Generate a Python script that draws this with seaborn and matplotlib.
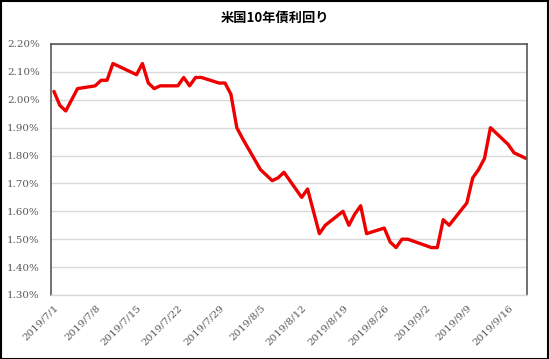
import matplotlib
matplotlib.use("Agg")
import matplotlib.pyplot as plt
import matplotlib.dates as mdates
import seaborn as sns
import pandas as pd

dates = ["2019-07-01", "2019-07-02", "2019-07-03", "2019-07-05",
         "2019-07-08", "2019-07-09", "2019-07-10", "2019-07-11", "2019-07-12",
         "2019-07-15", "2019-07-16", "2019-07-17", "2019-07-18", "2019-07-19",
         "2019-07-22", "2019-07-23", "2019-07-24", "2019-07-25", "2019-07-26",
         "2019-07-29", "2019-07-30", "2019-07-31", "2019-08-01", "2019-08-02",
         "2019-08-05", "2019-08-06", "2019-08-07", "2019-08-08", "2019-08-09",
         "2019-08-12", "2019-08-13", "2019-08-14", "2019-08-15", "2019-08-16",
         "2019-08-19", "2019-08-20", "2019-08-21", "2019-08-22", "2019-08-23",
         "2019-08-26", "2019-08-27", "2019-08-28", "2019-08-29", "2019-08-30",
         "2019-09-03", "2019-09-04", "2019-09-05", "2019-09-06",
         "2019-09-09", "2019-09-10", "2019-09-11", "2019-09-12", "2019-09-13",
         "2019-09-16", "2019-09-17", "2019-09-18", "2019-09-19"]
yields = [2.03, 1.98, 1.96, 2.04,
          2.05, 2.07, 2.07, 2.13, 2.12,
          2.09, 2.13, 2.06, 2.04, 2.05,
          2.05, 2.08, 2.05, 2.08, 2.08,
          2.06, 2.06, 2.02, 1.90, 1.86,
          1.75, 1.73, 1.71, 1.72, 1.74,
          1.65, 1.68, 1.60, 1.52, 1.55,
          1.60, 1.55, 1.59, 1.62, 1.52,
          1.54, 1.49, 1.47, 1.50, 1.50,
          1.47, 1.47, 1.57, 1.55,
          1.63, 1.72, 1.75, 1.79, 1.90,
          1.84, 1.81, 1.80, 1.79]

tick_dates = ["2019-07-01", "2019-07-08", "2019-07-15", "2019-07-22", "2019-07-29",
              "2019-08-05", "2019-08-12", "2019-08-19", "2019-08-26", "2019-09-02",
              "2019-09-09", "2019-09-16"]
tick_labels = ["2019/7/1", "2019/7/8", "2019/7/15", "2019/7/22", "2019/7/29",
               "2019/8/5", "2019/8/12", "2019/8/19", "2019/8/26", "2019/9/2",
               "2019/9/9", "2019/9/16"]
y_ticks = [1.30, 1.40, 1.50, 1.60, 1.70, 1.80, 1.90, 2.00, 2.10, 2.20]
title = "米国10年債利回り"

df = pd.DataFrame({"date": pd.to_datetime(dates), "yield": yields})

sns.set_theme(style="white")
plt.rcParams['font.family'] = ['DejaVu Serif', 'Noto Sans CJK JP']

fig = plt.figure(figsize=(5.49, 3.59), dpi=100)
ax = fig.add_axes([51/549, 1-295/359, (527-51)/549, (295-44)/359])

ax.set_axisbelow(True)
ax.yaxis.grid(True, color="#d9d9d9", linewidth=1.0)
ax.xaxis.grid(False)

sns.lineplot(data=df, x="date", y="yield", ax=ax, color="#ee0000",
             linewidth=2.4, legend=False)

t0 = mdates.date2num(pd.Timestamp("2019-07-01"))
t1 = mdates.date2num(pd.Timestamp("2019-09-19"))
ax.set_xlim(t0 - 0.5, t1 + 0.2)
ax.set_ylim(1.30, 2.20)

ax.set_yticks(y_ticks)
ax.set_yticklabels([f"{v:.2f}%" for v in y_ticks])
ax.set_xticks([mdates.date2num(pd.Timestamp(d)) for d in tick_dates])
ax.set_xticklabels(tick_labels, rotation=45, ha="right", rotation_mode="anchor")

ax.tick_params(axis="both", length=0, labelsize=7.4, labelcolor="#595959")
ax.tick_params(axis="y", pad=8)
ax.tick_params(axis="x", pad=6)

ax.set_xlabel("")
ax.set_ylabel("")

for s in ["left", "top", "right"]:
    ax.spines[s].set_color("#595959")
    ax.spines[s].set_linewidth(1.2)
    ax.spines[s].set_visible(True)
ax.spines["bottom"].set_color("#d9d9d9")
ax.spines["bottom"].set_linewidth(1.0)

fig.text(0.5, 1 - 18/359, title, ha="center", va="center", fontsize=9.5,
         fontweight="bold", family=['Noto Sans CJK JP', 'DejaVu Sans'], color="black")

border = plt.Rectangle((0.5/549, 0.5/359), 1 - 1.5/549, 1 - 1.5/359, transform=fig.transFigure,
                       fill=False, edgecolor="black", linewidth=1.5)
fig.patches.append(border)

fig.savefig("out.png", dpi=100)
